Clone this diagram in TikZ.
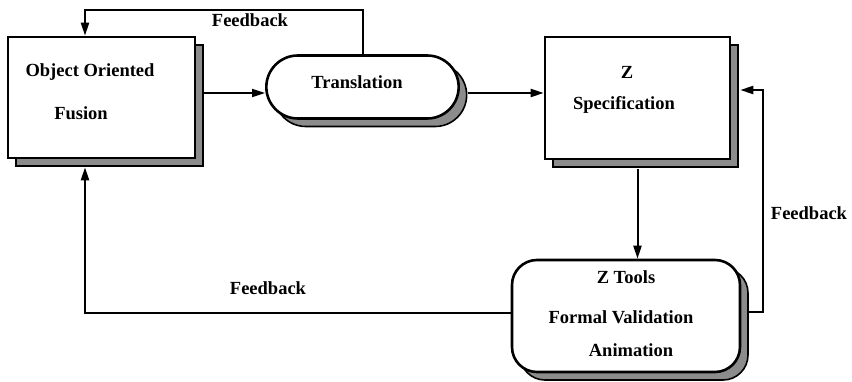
\documentclass[tikz,border=0pt]{standalone}
\usepackage{fontspec}
\setmainfont{Liberation Serif}
\usetikzlibrary{calc, shapes.misc, shadows, arrows.meta}

\begin{document}
\begin{tikzpicture}[x=1pt,y=-1pt,line width=2pt,
                    font=\fontsize{18.5}{21}\selectfont\bfseries,
                    >={Triangle[length=13pt,width=8pt]},
                    shade copy/.style={copy shadow={shadow xshift=8pt,shadow yshift=-8pt,
                      fill=black!45,draw=black,line width=1.6pt}},
                    box node/.style={rectangle,draw,line width=2.6pt,fill=white,shade copy},
                    flow node/.style={rounded rectangle,draw,line width=2.6pt,fill=white,shade copy},
                    tool node/.style={rectangle,rounded corners=25pt,draw,line width=2.6pt,fill=white,shade copy},
                    text node/.style={inner sep=0pt}]

 \useasboundingbox (0,0) rectangle (852,382);

 % boxes
 \node[box node,minimum width=187,minimum height=121] (oof) at (101.5,97.5) {};
 \node[text node] (oof1) at (90,72) {Object Oriented};
 \node[text node] (oof2) at (81,113) {Fusion};

 \node[flow node,minimum width=199,minimum height=63] (trans) at (362.5,87) {};
 \node[text node] (trans1) at (357,82) {Translation};

 \node[box node,minimum width=185,minimum height=122] (zspec) at (637.5,98) {};
 \node[text node] (zspec1) at (627,72) {Z};
 \node[text node] (zspec2) at (624,105) {Specification};

 \node[tool node,minimum width=228,minimum height=112] (ztools) at (626,316) {};
 \node[text node] (zt1) at (626,277) {Z Tools};
 \node[text node] (zt2) at (621,317) {Formal Validation};
 \node[text node] (zt3) at (631,350) {Animation};

 % connectors
 \coordinate (row) at (0,93);
 \coordinate (fbtop) at (85,10);
 \coordinate (fbright) at (763,90);
 \coordinate (fbleft) at (85,313);

 \draw[->] ($(oof.east |- row)+(8,0)$) -- (trans.west |- row);
 \draw[->] ($(trans.east |- row)+(8,0)$) -- (zspec.west |- row);
 \draw[->] ($(zspec.south)+(0,9)$) -- (ztools.north -| zspec.south);

 \draw[->] (trans.north) |- (fbtop) -- (oof.north -| fbtop);
 \draw[->] ($(ztools.east)+(8,-4)$) -| (fbright) -- ($(zspec.east |- fbright)+(9,0)$);
 \draw[->] (ztools.west |- fbleft) -- (fbleft) -- ($(oof.south -| fbleft)+(0,8)$);

 \node[text node] (fb1) at (250,20) {Feedback};
 \node[text node] (fb2) at (809,213) {Feedback};
 \node[text node] (fb3) at (268,288) {Feedback};

\end{tikzpicture}
\end{document}
